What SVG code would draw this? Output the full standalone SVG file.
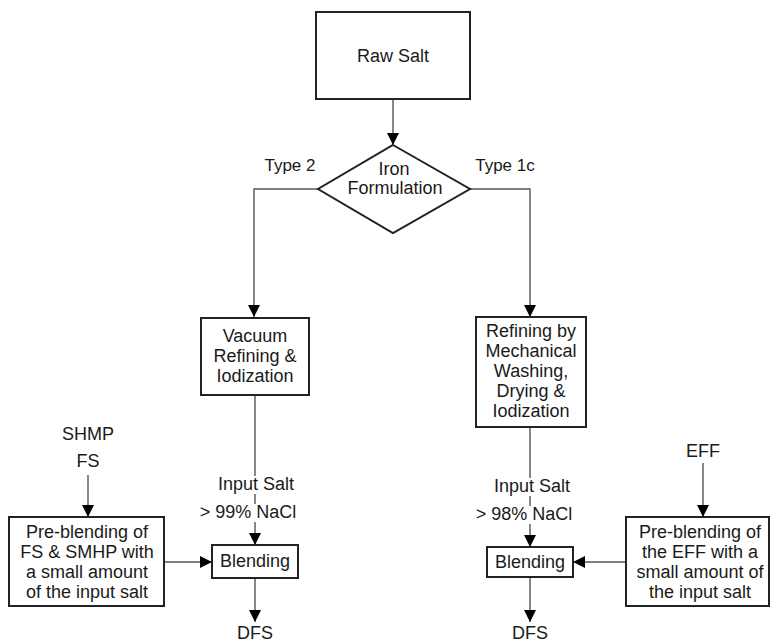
<svg xmlns="http://www.w3.org/2000/svg" width="770" height="642" viewBox="0 0 770 642">
<defs>
<style>
text{font-family:"Liberation Sans",Arial,sans-serif;font-size:18px;fill:#1a1a1a;text-anchor:middle}
.box{fill:#fff;stroke:#222;stroke-width:2}
.edge{fill:none;stroke:#555;stroke-width:1.4}
.bg{fill:#fff;stroke:none}
.lbl{font-size:17px}
</style>
<marker id="ah" markerUnits="userSpaceOnUse" markerWidth="12" markerHeight="12" refX="12" refY="6" orient="auto">
<path d="M0,0 L12,6 L0,12 z" fill="#000"/>
</marker>
</defs>
<rect width="770" height="642" fill="#fff"/>
<g id="connectors">
<path class="edge" d="M393,99 V145" marker-end="url(#ah)"/>
<path class="edge" d="M318,189 H254 V317" marker-end="url(#ah)"/>
<path class="edge" d="M470,189 H530 V317" marker-end="url(#ah)"/>
<path class="edge" d="M255,395 V545" marker-end="url(#ah)"/>
<path class="edge" d="M530,427 V547" marker-end="url(#ah)"/>
<path class="edge" d="M255,578 V622" marker-end="url(#ah)"/>
<path class="edge" d="M530,577 V622" marker-end="url(#ah)"/>
<path class="edge" d="M88,475 V517" marker-end="url(#ah)"/>
<path class="edge" d="M703,463 V517" marker-end="url(#ah)"/>
<path class="edge" d="M164,562 H212" marker-end="url(#ah)"/>
<path class="edge" d="M626,562 H573" marker-end="url(#ah)"/>
</g>
<g id="raw-salt">
<rect class="box" x="316" y="12" width="154" height="87"/>
<text x="393" y="62">Raw Salt</text>
</g>
<g id="iron-formulation">
<polygon class="box" points="393,145 470,189 393,233 318,189"/>
<text x="394" y="175">Iron</text>
<text x="395" y="194">Formulation</text>
</g>
<g id="label-type2"><text class="lbl" x="290" y="171">Type 2</text></g>
<g id="label-type1c"><text class="lbl" x="505" y="171">Type 1c</text></g>
<g id="vacuum-refining">
<rect class="box" x="201" y="318" width="108" height="77"/>
<text x="255" y="342">Vacuum</text>
<text x="255" y="362">Refining &amp;</text>
<text x="255" y="382">Iodization</text>
</g>
<g id="mechanical-refining">
<rect class="box" x="476" y="317" width="110" height="110"/>
<text x="531" y="337">Refining by</text>
<text x="531" y="357">Mechanical</text>
<text x="531" y="377">Washing,</text>
<text x="531" y="397">Drying &amp;</text>
<text x="531" y="417">Iodization</text>
</g>
<g id="input-salt-left">
<rect class="bg" x="214" y="476" width="84" height="18"/>
<rect class="bg" x="198" y="504" width="102" height="18"/>
<text x="256" y="490">Input Salt</text>
<text x="248" y="518">&gt; 99% NaCl</text>
</g>
<g id="input-salt-right">
<rect class="bg" x="490" y="478" width="84" height="18"/>
<rect class="bg" x="474" y="506" width="102" height="18"/>
<text x="532" y="492">Input Salt</text>
<text x="524" y="520">&gt; 98% NaCl</text>
</g>
<g id="shmp-fs">
<text x="88" y="440">SHMP</text>
<text x="88" y="467">FS</text>
</g>
<g id="eff"><text x="703" y="457">EFF</text></g>
<g id="preblend-left">
<rect class="box" x="9" y="517" width="155" height="89"/>
<text x="87" y="538">Pre-blending of</text>
<text x="87" y="558">FS &amp; SMHP with</text>
<text x="87" y="578">a small amount</text>
<text x="87" y="598">of the input salt</text>
</g>
<g id="preblend-right">
<rect class="box" x="626" y="517" width="143" height="89"/>
<text x="700" y="538">Pre-blending of</text>
<text x="700" y="558">the EFF with a</text>
<text x="700" y="578">small amount of</text>
<text x="700" y="598">the input salt</text>
</g>
<g id="blending-left">
<rect class="box" x="212" y="545" width="86" height="33"/>
<text x="255" y="567">Blending</text>
</g>
<g id="blending-right">
<rect class="box" x="487" y="547" width="86" height="30"/>
<text x="530" y="568">Blending</text>
</g>
<g id="dfs-left"><text x="255" y="639">DFS</text></g>
<g id="dfs-right"><text x="530" y="639">DFS</text></g>
</svg>
